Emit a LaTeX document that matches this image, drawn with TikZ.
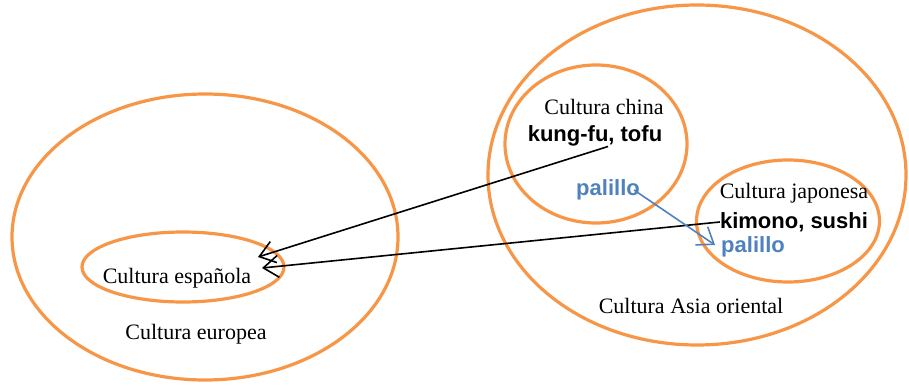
\documentclass[tikz,border=0pt]{standalone}
\usepackage{fontspec}
\setmainfont{Liberation Serif}
\newfontfamily\wordfont{Liberation Sans}
\usetikzlibrary{arrows.meta,shapes.geometric}
\definecolor{ringorange}{RGB}{247,150,70}
\definecolor{wordblue}{RGB}{79,129,189}

\begin{document}
\begin{tikzpicture}[
    x=1pt,y=-1pt,
    ring/.style={ellipse, draw=ringorange, line width=3.2pt, inner sep=0pt},
    culture/.style={inner sep=0pt, font=\fontsize{22}{24}\selectfont},
    words/.style={inner sep=0pt, font=\wordfont\bfseries\fontsize{22}{24}\selectfont},
    shared/.style={words, text=wordblue},
    link/.style={line width=1.6pt, -{Straight Barb[length=15pt,width=22pt]}},
    sharedlink/.style={link, draw=wordblue}
]
    \useasboundingbox (0,0) rectangle (909,385);

    % Europe
    \node[ring, minimum width=386, minimum height=286] (eu) at (205,237) {};
    \node[ring, minimum width=202, minimum height=70] (es) at (183,267) {};
    \node[culture] (esl) at (177,278) {Cultura española};
    \node[culture] (eul) at (196,334) {Cultura europea};

    % East Asia
    \node[ring, minimum width=418, minimum height=340] (as) at (697,175) {};
    \node[ring, minimum width=182, minimum height=158] (cn) at (596,144) {};
    \node[ring, minimum width=183, minimum height=122] (jp) at (788,221) {};
    \node[culture] (asl) at (691,306) {Cultura Asia oriental};
    \node[culture] (cnl) at (604,107) {Cultura china};
    \node[words] (cnw) at (595,136) {kung-fu, tofu};
    \node[shared] (cnp) at (608,190) {palillo};
    \node[culture] (jpl) at (794,193) {Cultura japonesa};
    \node[words] (jpw) at (794,222) {kimono, sushi};
    \node[shared] (jpp) at (753,247) {palillo};

    % borrowings
    \coordinate (in1) at (258,257);
    \coordinate (in2) at (262,268);
    \draw[link] (cnw.south)++(13,0) -- (in1);
    \draw[link] (jpw.west) -- (in2);
    \draw[sharedlink] ([xshift=-6pt]cnp.east) -- ([shift={(-6,-2)}]jpp.west);
\end{tikzpicture}
\end{document}
